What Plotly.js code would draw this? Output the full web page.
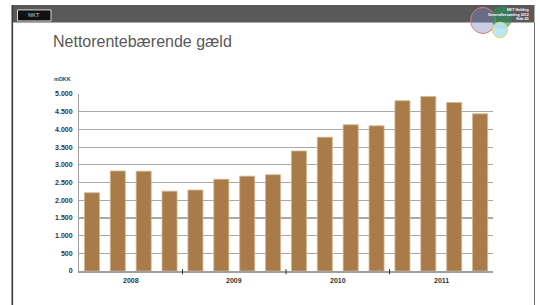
<!DOCTYPE html>
<html>
<head>
<meta charset="utf-8">
<script src="https://cdn.plot.ly/plotly-3.0.1.min.js"></script>
<style>html,body{margin:0;padding:0;background:#fff;}#chart{width:540px;height:305px;}</style>
</head>
<body>
<div id="chart"></div>
<script>
// ---- data ----
var categories = ['K1 2008','K2 2008','K3 2008','K4 2008',
                  'K1 2009','K2 2009','K3 2009','K4 2009',
                  'K1 2010','K2 2010','K3 2010','K4 2010',
                  'K1 2011','K2 2011','K3 2011','K4 2011'];
var debtValues = [2210, 2825, 2820, 2255, 2285, 2590, 2680, 2720,
                  3390, 3780, 4130, 4100, 4810, 4930, 4760, 4440];
var yearLabels = ['2008','2009','2010','2011'];
var yearCenters = [1.5, 5.5, 9.5, 13.5];
var yearSeparators = [3.5, 7.5, 11.5];
var yTickValues = [0,500,1000,1500,2000,2500,3000,3500,4000,4500,5000];
var titleText = 'Nettorentebærende gæld';
var unitText = 'mDKK';
var headerLines = ['NKT Holding','Generalforsamling 2012','Side 43'];

// ---- layout helpers (pixel -> paper) ----
var W = 540, H = 305;
var L = 79, R = 47, T = 94.3, B = 34.3;
var PW = W - L - R, PH = H - T - B;
function px(x){ return (x - L) / PW; }
function py(y){ return (H - B - y) / PH; }
var FONT = '"Liberation Sans", Arial, sans-serif';

var xIdx = categories.map(function(c, i){ return i; });

var trace = {
  type: 'bar',
  x: xIdx,
  y: debtValues,
  hovertext: categories,
  textposition: 'none',
  marker: {color: '#a97b48', line: {color: '#d3b58f', width: 0.8}},
  width: 0.58
};

var shapes = [
  {type:'rect', xref:'paper', yref:'paper', x0:px(12), x1:px(534.5), y0:py(23), y1:py(5.5),
   fillcolor:'#595959', line:{width:0}},
  {type:'line', xref:'paper', yref:'paper', x0:px(12.3), x1:px(12.3), y0:py(5.5), y1:py(305),
   line:{color:'#3a3a3a', width:1.6}},
  {type:'line', xref:'paper', yref:'paper', x0:px(534.5), x1:px(534.5), y0:py(23), y1:py(305),
   line:{color:'#6a6a6a', width:1}},
  {type:'rect', xref:'paper', yref:'paper', x0:px(17.5), x1:px(51), y0:py(21.5), y1:py(10.5),
   fillcolor:'#111111', line:{color:'#d8d8d8', width:1}},
  {type:'circle', xref:'paper', yref:'paper', x0:px(470.5), x1:px(495.5), y0:py(34), y1:py(8),
   fillcolor:'rgba(128,136,190,0.42)', line:{color:'#d48080', width:1}},
  {type:'circle', xref:'paper', yref:'paper', x0:px(491.5), x1:px(512), y0:py(29), y1:py(7),
   fillcolor:'rgba(40,150,95,0.55)', line:{color:'rgba(50,130,90,0.6)', width:1}},
  {type:'circle', xref:'paper', yref:'paper', x0:px(492.5), x1:px(507.5), y0:py(38.3), y1:py(22.7),
   fillcolor:'rgba(180,228,242,0.9)', line:{color:'#e6d46c', width:1}}
];
yearSeparators.forEach(function(s){
  shapes.push({type:'line', xref:'x', yref:'paper', x0:s, x1:s, y0:py(274), y1:py(268.8),
    line:{color:'#333', width:1}});
});

var annotations = [
  {xref:'paper', yref:'paper', x:px(50.5), y:py(41.5), xanchor:'left', yanchor:'middle',
   text:titleText, showarrow:false, font:{family:FONT, size:16, color:'#595959'}},
  {xref:'paper', yref:'paper', x:px(51.5), y:py(79.3), xanchor:'left', yanchor:'middle',
   text:'<b>'+unitText+'</b>', showarrow:false, font:{family:FONT, size:5.5, color:'#444'}},
  {xref:'paper', yref:'paper', x:px(34), y:py(16), xanchor:'center', yanchor:'middle',
   text:'<b>NKT</b>', showarrow:false, font:{family:FONT, size:5.5, color:'#999999'}}
];
var headerY = [11, 15.6, 20];
headerLines.forEach(function(t, i){
  annotations.push({xref:'paper', yref:'paper', x:px(531), y:py(headerY[i]), xanchor:'right', yanchor:'middle',
    text:'<b>'+t+'</b>', showarrow:false, font:{family:FONT, size:3.6, color:'#ffffff'}});
});
yearLabels.forEach(function(t, i){
  annotations.push({xref:'x', yref:'paper', x:yearCenters[i], y:py(279.7), xanchor:'center', yanchor:'middle',
    text:'<b>'+t+'</b>', showarrow:false, font:{family:FONT, size:7, color:'#333'}});
});

var layout = {
  width: W, height: H,
  margin: {l:L, r:R, t:T, b:B, pad:0},
  paper_bgcolor: '#ffffff', plot_bgcolor: '#ffffff',
  separators: ',.',
  showlegend: false,
  bargap: 0.42,
  font: {family:FONT, color:'#333'},
  xaxis: {range:[-0.5, 15.5], showgrid:false, zeroline:false, showticklabels:false,
          ticks:'', showline:true, linecolor:'#a0a0a0', linewidth:1.5, fixedrange:true},
  yaxis: {range:[0, 5000], tickvals:yTickValues, tickformat:',d', showgrid:true,
          gridcolor:'#a8a8a8', gridwidth:1.2, zeroline:false, showline:true,
          linecolor:'#a0a0a0', linewidth:1, ticks:'', ticklabelstandoff:4,
          tickfont:{family:FONT, size:7, color:'#333', weight:'bold'},
          fixedrange:true},
  shapes: shapes,
  annotations: annotations
};

Plotly.newPlot('chart', [trace], layout, {displayModeBar:false, staticPlot:true});
</script>
</body>
</html>
